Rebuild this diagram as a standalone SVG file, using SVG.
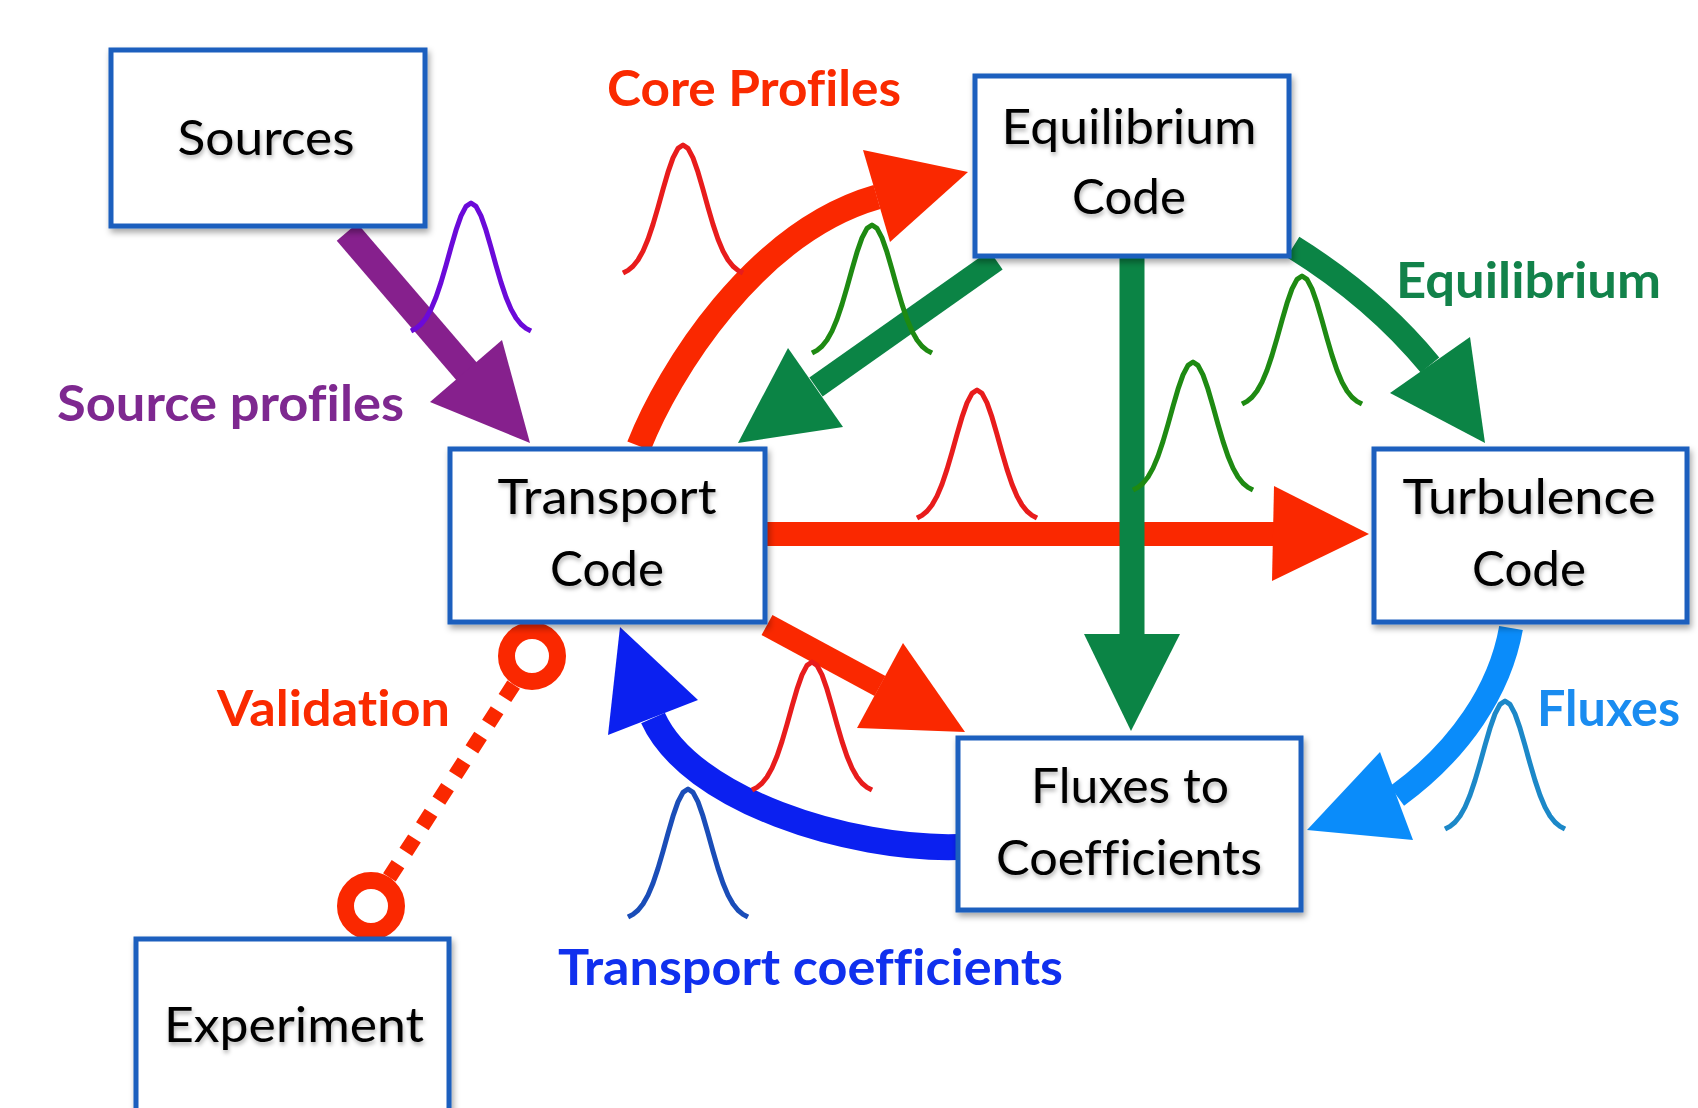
<svg xmlns="http://www.w3.org/2000/svg" xmlns:xlink="http://www.w3.org/1999/xlink" width="1698" height="1108" viewBox="0 0 1698 1108">
<style>
.box{fill:#fff;stroke:#1C5EBE;stroke-width:5;filter:url(#bshadow)}
.nt{font-family:Lato,"Open Sans","Liberation Sans",sans-serif;font-size:49px;fill:#000;text-anchor:middle;filter:url(#tshadow);font-variant-ligatures:none}
.lb{font-family:Lato,"Open Sans","Liberation Sans",sans-serif;font-size:49px;font-weight:bold;font-variant-ligatures:none}
.sh{fill:none;stroke-linecap:butt}
.red{stroke:#FA2800}.redf{fill:#FA2800}
.grn{stroke:#0B8445}.grnf{fill:#0B8445}
.pur{stroke:#86208D}.purf{fill:#86208D}
.lbl{stroke:#0A8CFA}.lblf{fill:#0A8CFA}
.blu{stroke:#0B20F0}.bluf{fill:#0B20F0}
.g{fill:none;stroke-width:5;stroke-linejoin:round}
</style>
<defs>
<filter id="bshadow" x="-10%" y="-10%" width="130%" height="130%">
<feDropShadow dx="2" dy="4" stdDeviation="3" flood-color="#000" flood-opacity="0.35"/>
</filter>
<filter id="tshadow" x="-10%" y="-20%" width="130%" height="150%">
<feDropShadow dx="1" dy="3" stdDeviation="2" flood-color="#000" flood-opacity="0.3"/>
</filter>
<path id="gauss" d="M-60,128 L-55,125.4 L-50,121.3 L-45,115 L-40,106.1 L-35,94.2 L-30,79.4 L-25,62.4 L-20,44.4 L-15,27.2 L-10,12.9 L-5,3.4 L0,0 L5,3.4 L10,12.9 L15,27.2 L20,44.4 L25,62.4 L30,79.4 L35,94.2 L40,106.1 L45,115 L50,121.3 L55,125.4 L60,128"/>
</defs>
<rect width="1698" height="1108" fill="#fff"/>

<g id="connectors">
  <!-- Sources -> Transport -->
  <path class="sh pur" stroke-width="27" d="M347,232 L468,373"/>
  <polygon class="purf" points="502,340 530,443 430,402"/>
  <!-- Core profiles: Transport -> Equilibrium -->
  <path class="sh red" stroke-width="25" d="M639,446 C668,372 755,232 877,197"/>
  <polygon class="redf" points="863,150 968,172 890,242"/>
  <!-- Equilibrium -> Transport -->
  <path class="sh grn" stroke-width="23" d="M996,260 L816,387"/>
  <polygon class="grnf" points="788,348 738,443 843,427"/>
  <!-- Equilibrium -> Turbulence -->
  <path class="sh grn" stroke-width="24" d="M1293,247 Q1375,298 1430,365"/>
  <polygon class="grnf" points="1470,337 1485,443 1390,393"/>
  <!-- Transport -> Turbulence -->
  <path class="sh red" stroke-width="24" d="M766,534 L1274,534"/>
  <polygon class="redf" points="1274,486 1369,534 1272,581"/>
  <!-- Equilibrium -> Fluxes to Coefficients -->
  <path class="sh grn" stroke-width="25" d="M1132,256 L1132,636"/>
  <polygon class="grnf" points="1084,634 1131,731 1180,634"/>
  <!-- Transport -> Fluxes to Coefficients -->
  <path class="sh red" stroke-width="23" d="M767,625 L880,686"/>
  <polygon class="redf" points="903,643 965,732 857,728"/>
  <!-- Fluxes to Coefficients -> Transport -->
  <path class="sh blu" stroke-width="26" d="M958,847 C850,850 690,800 653,718"/>
  <polygon class="bluf" points="620,627 698,700 608,735"/>
  <!-- Turbulence -> Fluxes to Coefficients -->
  <path class="sh lbl" stroke-width="24" d="M1511,628 C1500,690 1460,750 1397,796"/>
  <polygon class="lblf" points="1380,752 1307,830 1413,840"/>
  <!-- Validation -->
  <line x1="513.6" y1="684.6" x2="389.4" y2="877.4" stroke="#FA2800" stroke-width="15" stroke-dasharray="16 14.5"/>
  <circle cx="532" cy="656" r="25.5" fill="#fff" stroke="#FA2800" stroke-width="17"/>
  <circle cx="371" cy="906" r="25.5" fill="#fff" stroke="#FA2800" stroke-width="17"/>
</g>

<g id="profiles">
  <use href="#gauss" class="g" stroke="#6B0AD9" transform="translate(471,203)"/>
  <use href="#gauss" class="g" stroke="#E81C1C" transform="translate(683,145)"/>
  <use href="#gauss" class="g" stroke="#1E8A12" transform="translate(872,225)"/>
  <use href="#gauss" class="g" stroke="#1E8A12" transform="translate(1302,276)"/>
  <use href="#gauss" class="g" stroke="#1E8A12" transform="translate(1193,362)"/>
  <use href="#gauss" class="g" stroke="#E81C1C" transform="translate(977,390)"/>
  <use href="#gauss" class="g" stroke="#E81C1C" transform="translate(812,662)"/>
  <use href="#gauss" class="g" stroke="#1A4DB8" transform="translate(688,789)"/>
  <use href="#gauss" class="g" stroke="#1C88C8" transform="translate(1505,701)"/>
</g>

<g id="node-sources">
  <rect class="box" x="111" y="50" width="314" height="176"/>
  <text class="nt" x="266" y="155" textLength="177" lengthAdjust="spacingAndGlyphs">Sources</text>
</g>
<g id="node-equilibrium">
  <rect class="box" x="975" y="76" width="314" height="180"/>
  <text class="nt" x="1129" y="144" textLength="255" lengthAdjust="spacingAndGlyphs">Equilibrium</text>
  <text class="nt" x="1129" y="214" textLength="114" lengthAdjust="spacingAndGlyphs">Code</text>
</g>
<g id="node-transport">
  <rect class="box" x="450" y="449" width="315" height="173"/>
  <text class="nt" x="607" y="514" textLength="219" lengthAdjust="spacingAndGlyphs">Transport</text>
  <text class="nt" x="607" y="586" textLength="114" lengthAdjust="spacingAndGlyphs">Code</text>
</g>
<g id="node-turbulence">
  <rect class="box" x="1374" y="449" width="313" height="173"/>
  <text class="nt" x="1529" y="514" textLength="253" lengthAdjust="spacingAndGlyphs">Turbulence</text>
  <text class="nt" x="1529" y="586" textLength="114" lengthAdjust="spacingAndGlyphs">Code</text>
</g>
<g id="node-fluxes">
  <rect class="box" x="958" y="738" width="343" height="172"/>
  <text class="nt" x="1130" y="803" textLength="198" lengthAdjust="spacingAndGlyphs">Fluxes to</text>
  <text class="nt" x="1129" y="875" textLength="266" lengthAdjust="spacingAndGlyphs">Coefficients</text>
</g>
<g id="node-experiment">
  <rect class="box" x="136" y="939" width="313" height="200"/>
  <text class="nt" x="294" y="1042" textLength="260" lengthAdjust="spacingAndGlyphs">Experiment</text>
</g>

<g id="labels">
  <text class="lb" x="607" y="106" fill="#FA2A00" textLength="294" lengthAdjust="spacingAndGlyphs">Core Profiles</text>
  <text class="lb" x="57" y="421" fill="#7E2890" textLength="347" lengthAdjust="spacingAndGlyphs">Source profiles</text>
  <text class="lb" x="1396" y="298" fill="#12824A" textLength="265" lengthAdjust="spacingAndGlyphs">Equilibrium</text>
  <text class="lb" x="217" y="726" fill="#FA2A00" textLength="233" lengthAdjust="spacingAndGlyphs">Validation</text>
  <text class="lb" x="1537" y="726" fill="#1A8CF0" textLength="143" lengthAdjust="spacingAndGlyphs">Fluxes</text>
  <text class="lb" x="558" y="985" fill="#1030EE" textLength="505" lengthAdjust="spacingAndGlyphs">Transport coefficients</text>
</g>
</svg>
